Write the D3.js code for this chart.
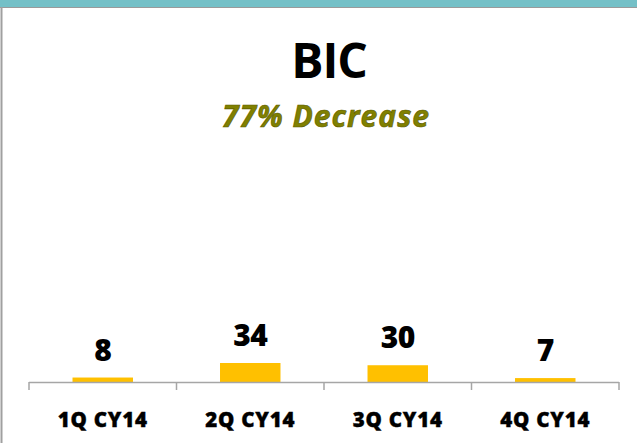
<!DOCTYPE html>
<html>
<head>
<meta charset="utf-8">
<script src="https://cdn.jsdelivr.net/npm/d3@7"></script>
<style>
  body { margin: 0; background: #fff; }
  svg { display: block; }
</style>
</head>
<body>
<svg width="637" height="443"></svg>
<script>
var categories = ['1Q CY14', '2Q CY14', '3Q CY14', '4Q CY14']
var values = [8, 34, 30, 7]
var title = 'BIC'
var subtitle = '77% Decrease'

var font = '"Open Sans", Lato, sans-serif'
var svg = d3.select('svg')

// frame: teal band on top, grey edge left
svg.append('rect').attr('x', 0).attr('y', 0).attr('width', 637).attr('height', 7).attr('fill', '#74c0c7')
svg.append('line').attr('x1', 0).attr('x2', 637).attr('y1', 7.5).attr('y2', 7.5).attr('stroke', '#9a9a9a')
svg.append('line').attr('x1', 1.5).attr('x2', 1.5).attr('y1', 7).attr('y2', 443).attr('stroke', '#a0a0a0').attr('stroke-width', 2)

svg.append('text')
    .attr('x', 329).attr('y', 78)
    .attr('text-anchor', 'middle')
    .style('font-family', font)
    .style('font-weight', 'bold')
    .style('font-size', '48px')
    .attr('letter-spacing', -1)
    .text(title)

svg.append('text')
    .attr('x', 326).attr('y', 127)
    .attr('text-anchor', 'middle')
    .style('font-family', font)
    .style('font-weight', 'bold')
    .style('font-style', 'italic')
    .style('font-size', '30px')
    .attr('letter-spacing', 1)
    .attr('fill', '#808000')
    .attr('stroke', '#5a5a00')
    .attr('stroke-width', 0.6)
    .text(subtitle)

var left = 29, right = 619, baseY = 382

var x = d3.scaleBand()
    .domain(categories)
    .range([left, right])
    .paddingInner(0.59)
    .paddingOuter(0.295)

var y = d3.scaleLinear()
    .domain([0, 34])
    .range([baseY, baseY - 19])

svg.selectAll('rect.bar')
    .data(values)
    .enter()
    .append('rect')
    .attr('class', 'bar')
    .attr('x', function(d, i){ return x(categories[i]) })
    .attr('width', x.bandwidth())
    .attr('y', function(d){ return y(d) })
    .attr('height', function(d){ return baseY - y(d) })
    .attr('fill', '#ffc000')

svg.selectAll('text.val')
    .data(values)
    .enter()
    .append('text')
    .attr('class', 'val')
    .attr('x', function(d, i){ return x(categories[i]) + x.bandwidth() / 2 })
    .attr('y', function(d){ return y(d) - 17 })
    .attr('text-anchor', 'middle')
    .style('font-family', font)
    .style('font-weight', 800)
    .style('font-size', '30px')
    .attr('letter-spacing', -0.5)
    .text(function(d){ return d })

// axis line with tick marks between categories
var tickXs = d3.range(categories.length + 1).map(function(i){ return left + i * (right - left) / categories.length })

svg.append('line')
    .attr('x1', left).attr('x2', right)
    .attr('y1', baseY + 0.5).attr('y2', baseY + 0.5)
    .attr('stroke', '#a6a6a6').attr('stroke-width', 1.5)

svg.selectAll('line.tick')
    .data(tickXs)
    .enter()
    .append('line')
    .attr('class', 'tick')
    .attr('x1', function(d){ return d }).attr('x2', function(d){ return d })
    .attr('y1', baseY).attr('y2', baseY + 8)
    .attr('stroke', '#a6a6a6').attr('stroke-width', 1.5)

svg.selectAll('text.cat')
    .data(categories)
    .enter()
    .append('text')
    .attr('class', 'cat')
    .attr('x', function(d){ return x(d) + x.bandwidth() / 2 })
    .attr('y', 427)
    .attr('text-anchor', 'middle')
    .style('font-family', font)
    .style('font-weight', 800)
    .style('font-size', '20.5px')
    .attr('letter-spacing', 0.8)
    .attr('stroke', '#000')
    .attr('stroke-width', 0.4)
    .text(function(d){ return d })
</script>
</body>
</html>
